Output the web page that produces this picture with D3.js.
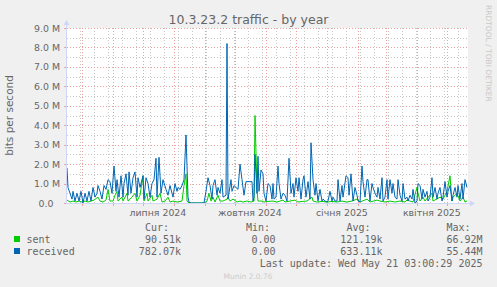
<!DOCTYPE html>
<html lang="uk">
<head>
<meta charset="UTF-8">
<title>10.3.23.2 traffic - by year</title>
<script src="https://d3js.org/d3.v7.min.js"></script>
<style>
  body { margin: 0; background: #f0f0f0; }
  svg text { font-family: "DejaVu Sans", sans-serif; fill: #666666; }
  .legend text { font-family: "DejaVu Sans Mono", monospace; font-size: 10px; }
  .grid-minor { stroke: #c8c8c8; stroke-dasharray: 1,2; }
  .grid-major { stroke: #eea0a0; stroke-dasharray: 1,2; }
  .axis-line { stroke: #cfd6f8; }
</style>
</head>
<body>
<script>
  // time span of the munin "year" graph: 400 days ending at last update
  var endTime = Date.UTC(2025, 4, 21, 3, 0, 29);
  var spanDays = 400;

  // [day since graph start, bits per second (millions)]
  var received = [[0,1.8],[1,0.8],[5,0.2],[6,0.6],[8,0.1],[10,0.5],[12,0.1],[14,0.6],[16,0.0],[18,0.5],
    [20,0.1],[22,0.6],[24,0.1],[26,0.8],[28,0.3],[30,0.5],[31,0.9],[33,0.6],[35,0.2],[37,0.9],[39,0.7],
    [41,1.2],[43,1.1],[45,0.5],[47,1.9],[49,0.6],[50,1.2],[52,0.3],[54,1.4],[56,0.3],[57,1.0],[59,1.5],
    [61,0.4],[62,1.6],[64,0.5],[66,1.3],[68,1.6],[70,0.3],[71,1.3],[73,0.8],[76,1.4],[77,0.2],[79,1.3],
    [81,1.0],[83,0.3],[85,1.0],[87,1.2],[89,2.3],[90,0.3],[92,2.35],[94,0.5],[96,1.2],[99,0.7],[101,0.4],
    [103,0.9],[105,0.5],[106,0.3],[108,1.0],[110,0.6],[111,0.8],[113,0.7],[115,0.9],[117,1.2],[119,3.5],
    [121,0.3],[122,0.05],[124,0],[137,0],[139,0.6],[141,1.3],[143,0.9],[145,0.2],[146,0.9],[148,1.2],
    [150,0.4],[151,0.8],[153,0.5],[155,1.2],[156,0.3],[159,0.4],[160,8.2],[161,0.2],[164,1.2],[165,0.6],
    [167,0.9],[169,0.8],[171,0.7],[173,2.0],[175,1.2],[177,0.4],[179,1.1],[181,1.1],[183,1.1],[185,1.1],
    [186,0.1],[187,0.3],[188,2.5],[190,0.5],[191,2.4],[192,0.6],[194,1.7],[196,1.5],[197,0.5],[199,0.1],
    [201,1.0],[203,0.9],[205,0.2],[206,1.0],[207,0.2],[209,0.3],[211,1.9],[212,1.0],[214,0.2],[216,0.5],
    [218,0.4],[220,0.1],[222,2.3],[224,0.5],[226,1.0],[227,0.3],[229,1.3],[231,0.6],[232,1.3],[234,0.2],
    [236,1.2],[237,1.4],[239,0.3],[241,1.1],[243,0.2],[244,3.1],[246,1.2],[248,0.4],[249,1.0],[251,0.1],
    [253,0.7],[255,0.1],[256,0.2],[258,0.1],[260,0.05],[261,0.1],[263,0.6],[265,0.1],[266,0.3],[268,0.1],
    [270,0.1],[271,1.2],[273,0.1],[275,0.9],[276,0.3],[279,1.4],[281,1.3],[282,0.4],[284,1.5],[286,0.1],
    [288,0.8],[290,0.4],[291,0.1],[293,0.05],[295,1.9],[296,1.1],[298,0.3],[300,1.2],[301,1.2],[303,0.1],
    [305,1.0],[306,0.8],[308,0.5],[310,0.3],[311,0.8],[313,0.2],[315,1.3],[316,0.1],[318,0.3],[320,1.2],
    [321,0.2],[323,1.2],[325,0.5],[326,1.0],[328,0.3],[330,0.2],[331,1.2],[333,0.4],[335,0.1],[336,1.0],
    [338,0.2],[340,0.3],[341,0.1],[343,0.4],[345,0.2],[346,0.7],[348,0.0],[350,0.1],[351,1.0],[353,0.9],
    [355,0.2],[356,0.7],[358,0.3],[360,0.6],[361,0.1],[363,0.3],[365,1.3],[366,0.3],[368,0.8],[370,0.2],
    [371,0.5],[373,0.8],[375,0.1],[376,0.3],[378,1.1],[380,0.3],[381,0.6],[383,0.9],[385,0.1],[386,0.4],
    [388,0.8],[390,0.3],[391,0.9],[393,0.2],[395,1.0],[396,0.2],[398,1.2],[400,0.8]];

  var sent = [[0,0.15],[3,0.05],[6,0.1],[9,0.05],[12,0.1],[15,0.05],[18,0.1],[21,0.05],[24,0.1],[27,0.15],
    [31,0.3],[33,0.1],[36,0.05],[39,0.15],[41,0.7],[43,0.1],[46,0.1],[48,0.4],[50,0.6],[51,0.1],[55,0.3],
    [56,0.1],[60,0.5],[61,0.1],[65,0.3],[68,0.5],[70,0.1],[73,0.4],[76,1.4],[77,0.1],[80,0.5],[81,0.1],
    [85,0.4],[86,0.1],[90,0.2],[93,0.5],[95,0.05],[98,0.1],[101,0.3],[103,0.05],[106,0.1],[110,0.05],
    [115,0.1],[117,0.9],[119,1.5],[120,0.1],[122,0],[137,0],[140,0.1],[142,0.5],[144,0.1],[146,0.3],
    [148,0.05],[151,0.4],[153,0.1],[156,0.1],[160,0.2],[161,0.3],[163,0.1],[166,0.2],[170,0.05],[173,0.1],
    [176,0.05],[180,0.1],[184,0.05],[187,0.1],[188,4.5],[190,0.65],[191,0.1],[195,0.1],[197,0.05],
    [200,0.08],[206,0.1],[210,0.05],[216,0.15],[218,0.05],[223,0.1],[228,0.15],[231,0.05],[235,0.08],
    [240,0.1],[245,0.3],[246,0.1],[250,0.05],[255,0.08],[260,0.05],[265,0.08],[270,0.05],[275,0.1],
    [280,0.05],[285,0.1],[290,0.2],[293,0.05],[300,0.2],[303,0.05],[310,0.15],[313,0.1],[318,0.05],
    [323,0.1],[328,0.05],[333,0.1],[338,0.05],[340,0.15],[346,0.05],[350,0.8],[351,0.5],[353,0.1],
    [356,0.3],[358,0.1],[361,0.3],[365,0.5],[366,0.1],[373,0.3],[376,0.2],[380,0.6],[383,1.4],[385,0.1],
    [386,0.3],[390,0.5],[393,0.1],[396,0.3],[398,0.05],[400,0.1]];

  var yMax = 9;                       // millions
  var yTicks = [0, 1, 2, 3, 4, 5, 6, 7, 8, 9];
  var monthLabels = ["липня 2024", "жовтня 2024", "січня 2025", "квітня 2025"];
  var labelMonths = [[2024, 6], [2024, 9], [2025, 0], [2025, 3]];

  var seriesNames = ["sent", "received"];
  var seriesColors = ["#00cc00", "#0066b3"];
  var curVals = ["90.51k", "782.07k"];
  var minVals = ["0.00", "0.00"];
  var avgVals = ["121.19k", "633.11k"];
  var maxVals = ["66.92M", "55.44M"];

  var W = 497, H = 287;
  var plot = {left: 67, right: 467, top: 28, bottom: 203};

  var svg = d3.select("body").append("svg")
      .attr("width", W)
      .attr("height", H);

  svg.append("rect").attr("width", W).attr("height", H).attr("fill", "#f0f0f0");
  svg.append("rect")
      .attr("x", plot.left).attr("y", plot.top)
      .attr("width", plot.right - plot.left + 1)
      .attr("height", plot.bottom - plot.top)
      .attr("fill", "#ffffff");

  var startTime = endTime - spanDays * 864e5;
  var x = d3.scaleTime()
      .domain([new Date(startTime), new Date(endTime)])
      .range([plot.left, plot.right]);
  var y = d3.scaleLinear().domain([0, yMax]).range([plot.bottom, plot.top]);

  function dayDate(d) { return new Date(startTime + d * 864e5); }
  function px(v) { return Math.round(v) + 0.5; }

  // grid: minor every 0.5 M and every second monday, major each 1 M and each month
  var grid = svg.append("g");
  var halfSteps = d3.range(0.5, yMax, 1);
  grid.selectAll(".hmin").data(halfSteps).enter().append("line")
      .attr("class", "grid-minor")
      .attr("x1", plot.left).attr("x2", plot.right + 1)
      .attr("y1", d => px(y(d))).attr("y2", d => px(y(d)));

  var anchorMonday = Date.UTC(2025, 0, 6);
  var mondays = d3.utcMonday.range(new Date(startTime), new Date(endTime))
      .filter(d => Math.round((d - anchorMonday) / (7 * 864e5)) % 2 === 0);
  grid.selectAll(".vmin").data(mondays).enter().append("line")
      .attr("class", "grid-minor")
      .attr("x1", d => px(x(d))).attr("x2", d => px(x(d)))
      .attr("y1", plot.top).attr("y2", plot.bottom);

  grid.selectAll(".hmaj").data(yTicks.slice(1)).enter().append("line")
      .attr("class", "grid-major")
      .attr("x1", plot.left).attr("x2", plot.right + 1)
      .attr("y1", d => px(y(d))).attr("y2", d => px(y(d)));

  var months = d3.utcMonth.range(new Date(startTime), new Date(endTime));
  grid.selectAll(".vmaj").data(months).enter().append("line")
      .attr("class", "grid-major")
      .attr("x1", d => px(x(d))).attr("x2", d => px(x(d)))
      .attr("y1", plot.top).attr("y2", plot.bottom);

  // tick marks outside the plot
  grid.selectAll(".ytick").data(yTicks).enter().append("line")
      .attr("stroke", "#eea0a0")
      .attr("x1", plot.left - 3).attr("x2", plot.left)
      .attr("y1", d => px(y(d))).attr("y2", d => px(y(d)));
  grid.selectAll(".xtick").data(months).enter().append("line")
      .attr("stroke", "#eea0a0")
      .attr("x1", d => px(x(d))).attr("x2", d => px(x(d)))
      .attr("y1", plot.bottom).attr("y2", plot.bottom + 3);

  // data lines
  var line = d3.line()
      .x(d => x(dayDate(d[0])))
      .y(d => y(d[1]));

  [sent, received].forEach(function(s, i) {
    svg.append("path")
        .datum(s)
        .attr("fill", "none")
        .attr("stroke", seriesColors[i])
        .attr("stroke-width", 1)
        .attr("d", line);
  });

  // axes with arrows
  svg.append("line").attr("class", "axis-line")
      .attr("x1", plot.left - 1).attr("x2", plot.right + 4)
      .attr("y1", plot.bottom + 0.5).attr("y2", plot.bottom + 0.5);
  svg.append("line").attr("class", "axis-line")
      .attr("x1", plot.left - 0.5).attr("x2", plot.left - 0.5)
      .attr("y1", plot.bottom + 1).attr("y2", plot.top - 5);
  svg.append("path").attr("fill", "#cfd6f8")
      .attr("d", "M" + (plot.right + 3) + "," + (plot.bottom - 2.5) + "L" + (plot.right + 8) + "," + (plot.bottom + 0.5) +
                 "L" + (plot.right + 3) + "," + (plot.bottom + 3.5) + "Z");
  svg.append("path").attr("fill", "#cfd6f8")
      .attr("d", "M" + (plot.left - 3.5) + "," + (plot.top - 3) + "L" + (plot.left - 0.5) + "," + (plot.top - 8) +
                 "L" + (plot.left + 2.5) + "," + (plot.top - 3) + "Z");

  // axis labels
  svg.selectAll(".ylab").data(yTicks).enter().append("text")
      .attr("x", d => d === 0 ? 53.5 : 60)
      .attr("y", d => y(d) + 3.5)
      .attr("text-anchor", "end")
      .style("font-size", "9.4px")
      .text(d => d === 0 ? "0.0" : d.toFixed(1) + " M");

  svg.selectAll(".xlab").data(labelMonths).enter().append("text")
      .attr("x", d => x(new Date(Date.UTC(d[0], d[1], 16))))
      .attr("y", 215.5)
      .attr("text-anchor", "middle")
      .style("font-size", "9.4px")
      .text((d, i) => monthLabels[i]);

  svg.append("text")
      .attr("x", 248.5).attr("y", 24)
      .attr("text-anchor", "middle")
      .style("font-size", "12.5px")
      .text("10.3.23.2 traffic - by year");

  svg.append("text")
      .attr("transform", "translate(13," + ((plot.top + plot.bottom) / 2) + ") rotate(-90)")
      .attr("text-anchor", "middle")
      .style("font-size", "10.5px")
      .text("bits per second");

  svg.append("text")
      .attr("transform", "translate(486,5) rotate(90)")
      .style("font-size", "7.5px")
      .style("fill", "#c8c8c8")
      .text("RRDTOOL / TOBI OETIKER");

  // legend
  var legend = svg.append("g").attr("class", "legend");
  [["Cur:", 145], ["Min:", 246], ["Avg:", 346.5], ["Max:", 446.5]].forEach(function(h) {
    legend.append("text").attr("x", h[1]).attr("y", 231).text(h[0]);
  });
  seriesNames.forEach(function(name, i) {
    var by = 242.5 + i * 12;
    legend.append("rect")
        .attr("x", 14).attr("y", by - 6.5)
        .attr("width", 6).attr("height", 6)
        .attr("fill", seriesColors[i]);
    legend.append("text").attr("x", 26.5).attr("y", by).text(name);
    legend.append("text").attr("x", 181).attr("y", by).attr("text-anchor", "end").text(curVals[i]);
    legend.append("text").attr("x", 275.5).attr("y", by).attr("text-anchor", "end").text(minVals[i]);
    legend.append("text").attr("x", 382.5).attr("y", by).attr("text-anchor", "end").text(avgVals[i]);
    legend.append("text").attr("x", 482.5).attr("y", by).attr("text-anchor", "end").text(maxVals[i]);
  });
  legend.append("text")
      .attr("x", 482.5).attr("y", 266.5)
      .attr("text-anchor", "end")
      .text("Last update: Wed May 21 03:00:29 2025");

  svg.append("text")
      .attr("x", 248).attr("y", 278.5)
      .attr("text-anchor", "middle")
      .style("font-size", "7.5px")
      .style("fill", "#cccccc")
      .text("Munin 2.0.76");
</script>
</body>
</html>
